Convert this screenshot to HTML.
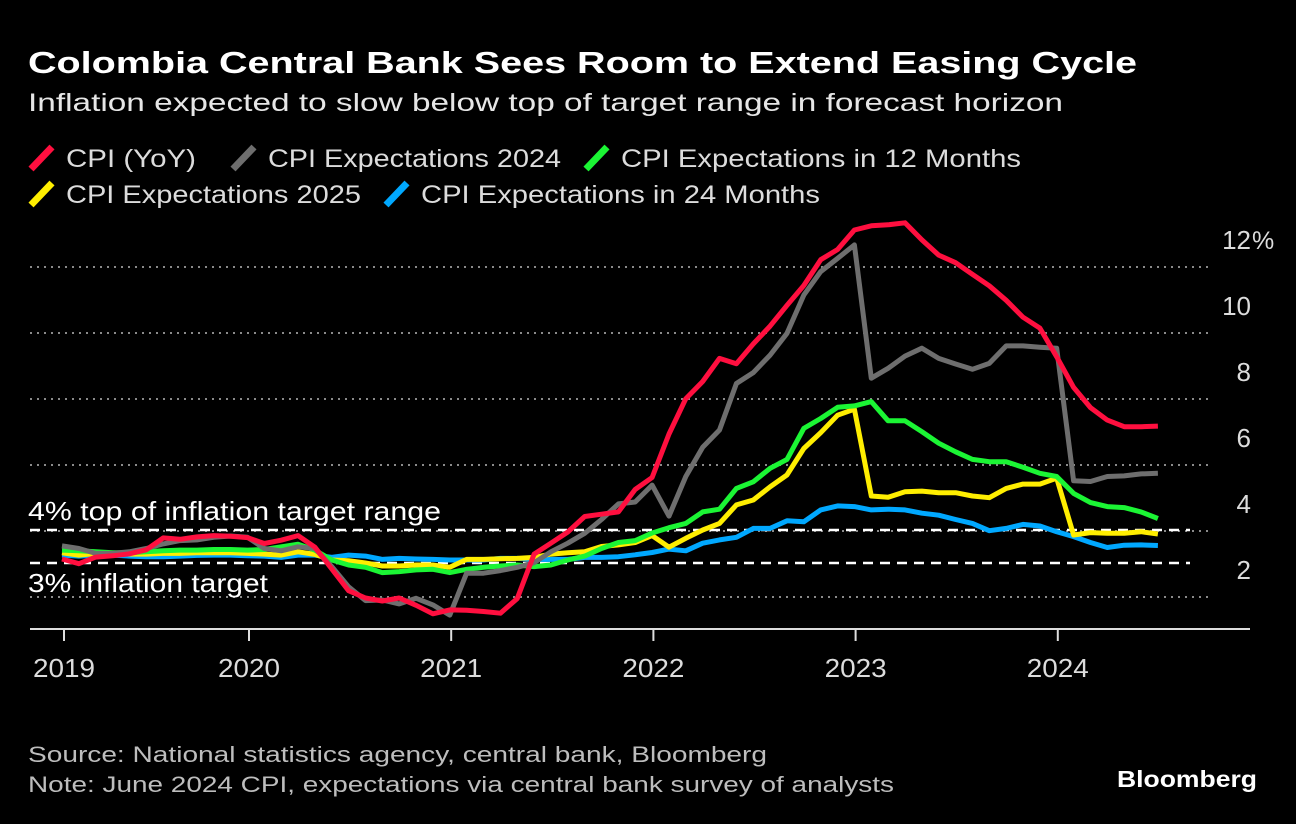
<!DOCTYPE html>
<html><head><meta charset="utf-8"><style>
html,body{margin:0;padding:0;background:#000;}
svg{display:block;font-family:"Liberation Sans",sans-serif;}
</style></head><body>
<svg id="chart" width="1296" height="824" viewBox="0 0 1296 824" xmlns="http://www.w3.org/2000/svg">
<rect width="1296" height="824" fill="#000"/>
<text x="28" y="73" fill="#fff" font-size="31" font-weight="bold" textLength="1109" lengthAdjust="spacingAndGlyphs">Colombia Central Bank Sees Room to Extend Easing Cycle</text>
<text x="28" y="111" fill="#e6e6e6" font-size="25" textLength="1035" lengthAdjust="spacingAndGlyphs">Inflation expected to slow below top of target range in forecast horizon</text>
<g id="legend" font-size="25" fill="#dcdcdc"></g>
<g id="grid"></g>
<g id="series"></g>
<g id="axis"></g>
<text x="28" y="762" fill="#bdbdbd" font-size="22" textLength="739" lengthAdjust="spacingAndGlyphs">Source: National statistics agency, central bank, Bloomberg</text>
<text x="28" y="792" fill="#bdbdbd" font-size="22" textLength="866" lengthAdjust="spacingAndGlyphs">Note: June 2024 CPI, expectations via central bank survey of analysts</text>
<text x="1257" y="787" fill="#fff" font-size="23" font-weight="bold" text-anchor="end" textLength="140" lengthAdjust="spacingAndGlyphs">Bloomberg</text>
</svg>
<script>
const NS='http://www.w3.org/2000/svg';
const cpi=[3.15,3.01,3.21,3.25,3.31,3.43,3.79,3.75,3.82,3.86,3.84,3.80,
3.62,3.72,3.86,3.51,2.85,2.19,1.97,1.88,1.97,1.75,1.49,1.61,
1.60,1.56,1.51,1.95,3.30,3.63,3.97,4.44,4.51,4.58,5.26,5.62,
6.94,8.01,8.53,9.23,9.07,9.67,10.21,10.84,11.44,12.22,12.53,13.12,
13.25,13.28,13.34,12.82,12.36,12.13,11.78,11.43,10.99,10.48,10.15,9.28,
8.35,7.74,7.36,7.16,7.16,7.18];
const exp2024=[3.55,3.47,3.32,3.32,3.37,3.47,3.61,3.71,3.73,3.81,3.85,3.81,
3.47,3.40,3.52,3.47,2.92,2.31,1.89,1.91,1.79,1.96,1.76,1.45,
2.72,2.72,2.80,2.90,3.04,3.37,3.63,3.93,4.35,4.82,4.88,5.39,
4.45,5.65,6.54,7.06,8.47,8.80,9.33,9.99,11.15,11.86,12.26,12.67,
8.63,8.93,9.30,9.54,9.23,9.06,8.90,9.08,9.61,9.61,9.57,9.54,
5.52,5.50,5.65,5.67,5.73,5.75];
const exp12m=[3.42,3.40,3.37,3.34,3.34,3.37,3.40,3.42,3.42,3.44,3.44,3.42,
3.44,3.52,3.60,3.42,3.12,2.97,2.90,2.74,2.77,2.82,2.84,2.74,
2.84,2.90,2.94,2.97,2.92,2.97,3.12,3.24,3.47,3.65,3.71,3.94,
4.10,4.23,4.58,4.66,5.29,5.49,5.90,6.17,7.11,7.41,7.75,7.79,
7.92,7.34,7.34,7.01,6.66,6.40,6.17,6.10,6.10,5.93,5.75,5.65,
5.14,4.86,4.74,4.71,4.58,4.38];
const exp2025=[3.34,3.27,3.32,3.32,3.30,3.30,3.32,3.32,3.34,3.34,3.34,3.32,
3.30,3.27,3.37,3.29,3.12,3.10,3.03,2.94,2.94,2.97,2.97,2.90,
3.14,3.14,3.16,3.17,3.20,3.30,3.34,3.37,3.53,3.58,3.65,3.86,
3.51,3.78,4.03,4.23,4.79,4.94,5.34,5.70,6.50,6.98,7.51,7.69,
5.06,5.02,5.19,5.21,5.16,5.16,5.06,5.01,5.29,5.42,5.42,5.60,
3.88,3.95,3.93,3.93,3.98,3.91];
const exp24m=[3.27,3.24,3.27,3.27,3.24,3.22,3.22,3.24,3.26,3.27,3.27,3.25,
3.24,3.20,3.27,3.27,3.20,3.27,3.24,3.14,3.17,3.15,3.14,3.12,
3.12,3.12,3.17,3.17,3.14,3.14,3.14,3.20,3.20,3.22,3.28,3.35,
3.45,3.40,3.63,3.73,3.81,4.08,4.08,4.31,4.28,4.64,4.76,4.74,
4.64,4.66,4.64,4.54,4.48,4.35,4.23,4.01,4.08,4.20,4.15,3.98,
3.83,3.65,3.50,3.57,3.58,3.56];
const yTicks=[2,4,6,8,10,12];
const yearLabels=['2019','2020','2021','2022','2023','2024'];
const seriesNames=['CPI (YoY)','CPI Expectations 2024','CPI Expectations in 12 Months','CPI Expectations 2025','CPI Expectations in 24 Months'];

const yS=v=>663-33*v;
const xS=m=>62+16.86*m;
const yearX=i=>i===0?64:249+(i-1)*202.2;
const svg=document.getElementById('chart');
function mk(tag,attrs,parent){const e=document.createElementNS(NS,tag);for(const k in attrs)e.setAttribute(k,attrs[k]);parent.appendChild(e);return e;}

// legend
const lg=document.getElementById('legend');
const legPos=[[31,167,'#ff0f3f',130],[233,167,'#6e6e6e',293],[586,167,'#1bf534',400],[31,203,'#ffee00',295],[386,203,'#00a8ff',399]];
seriesNames.forEach((n,i)=>{
  const [x,y,c,w]=legPos[i];
  const ln=mk('line',{x1:x,y1:y+2,x2:x+21,y2:y-20,stroke:c,'stroke-width':7},lg);
  
  
  const t=mk('text',{x:x+35,y:y,textLength:w,lengthAdjust:'spacingAndGlyphs'},lg);t.textContent=n;
  
  
});

// grid
const g=document.getElementById('grid');
yTicks.forEach(v=>{
  const l=mk('line',{x1:30,x2:1210,y1:yS(v),y2:yS(v),stroke:'#8a8a8a','stroke-width':2,'stroke-dasharray':'2 5'},g);
  
  
  const t=mk('text',{x:1251,y:yS(v)-18,fill:'#dcdcdc','font-size':26,'text-anchor':'end'},g);
  t.textContent=v;
  
  
  if(v===12){const p=mk('text',{x:1252,y:yS(v)-18,fill:'#dcdcdc','font-size':25},g);p.textContent='%';
    
    }
});
[[4,'4% top of inflation target range',413],[3,'3% inflation target',240]].forEach(([v,txt,w],i)=>{
  const l=mk('line',{x1:30,x2:1190,y1:yS(v)-1,y2:yS(v)-1,stroke:'#fff','stroke-width':2.5,'stroke-dasharray':'10 7'},g);
  
  
  const t=mk('text',{x:28,y:i===0?yS(v)-11:yS(v)+28,fill:'#fff','font-size':26,textLength:w,lengthAdjust:'spacingAndGlyphs'},g);t.textContent=txt;
  
  
});

// series
const sg=document.getElementById('series');
[[exp24m,'#00a8ff'],[exp2025,'#ffee00'],[exp12m,'#1bf534'],[exp2024,'#6e6e6e'],[cpi,'#ff0f3f']].forEach(([d,c],i)=>{
  const pts=d.map((v,m)=>xS(m).toFixed(1)+','+yS(v).toFixed(1)).join(' ');
  const p=mk('polyline',{points:pts,fill:'none',stroke:c,'stroke-width':5,'stroke-linejoin':'round'},sg);
  
  
});

// axis
const ax=document.getElementById('axis');
const al=mk('line',{x1:30,x2:1250,y1:629,y2:629,stroke:'#ddd','stroke-width':2},ax);


yearLabels.forEach((y,i)=>{
  const t=mk('line',{x1:yearX(i),x2:yearX(i),y1:629,y2:641,stroke:'#ddd','stroke-width':2},ax);
  
  
  const l=mk('text',{x:yearX(i)-31,y:677,fill:'#dcdcdc','font-size':26,textLength:62,lengthAdjust:'spacingAndGlyphs'},ax);l.textContent=y;
  
  
});
</script>
</body></html>
